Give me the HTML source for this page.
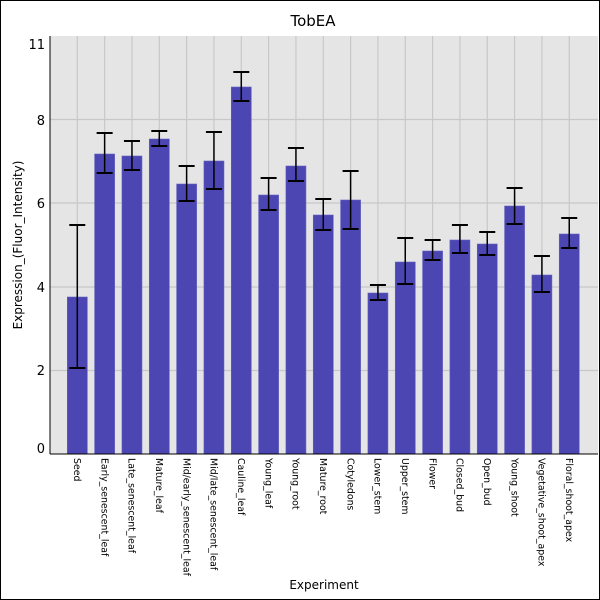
<!DOCTYPE html>
<html><head><style>body{margin:0;background:#fff}svg{display:block}</style></head><body>
<svg width="600" height="600" xmlns="http://www.w3.org/2000/svg" font-family="DejaVu Sans, Liberation Sans, sans-serif">
<rect x="0.5" y="0.5" width="599" height="599" fill="#fff" stroke="#000"/>
<text x="313" y="26" font-size="15" text-anchor="middle">TobEA</text>
<rect x="50" y="36" width="548" height="418" fill="#e5e5e5"/>
<g stroke="#c8c8c8" stroke-width="1.2">
<line x1="50" x2="598" y1="119.5" y2="119.5"/><line x1="50" x2="598" y1="203" y2="203"/><line x1="50" x2="598" y1="287" y2="287"/><line x1="50" x2="598" y1="370.5" y2="370.5"/>
</g>
<g id="v" stroke="#c8c8c8" stroke-width="1.2"></g>
<g id="bars"></g>
<line x1="50" y1="36" x2="50" y2="454" stroke="#000"/>
<line x1="50" y1="454" x2="598" y2="454" stroke="#000"/>
<g font-size="13" text-anchor="end">
<text x="45" y="49">11</text><text x="45" y="125">8</text><text x="45" y="208">6</text><text x="45" y="292">4</text><text x="45" y="375">2</text><text x="45" y="453">0</text>
</g>
<text transform="translate(22,245) rotate(-90)" font-size="12" text-anchor="middle">Expression_(Fluor_Intensity)</text>
<text x="324" y="589" font-size="12" text-anchor="middle">Experiment</text>
<g id="labels" font-size="9.4"></g>
<script>
var d=[["Seed",297,225,368],["Early_senescent_leaf",154,133,173],["Late_senescent_leaf",156,141,170],["Mature_leaf",139,131,146],["Mid/early_senescent_leaf",184,166,201],["Mid/late_senescent_leaf",161,132,189],["Cauline_leaf",87,72,101],["Young_leaf",195,178,210],["Young_root",166,148,181],["Mature_root",215,199,230],["Cotyledons",200,171,229],["Lower_stem",293,285,300],["Upper_stem",262,238,284],["Flower",251,240,260],["Closed_bud",240,225,253],["Open_bud",244,232,255],["Young_shoot",206,188,224],["Vegetative_shoot_apex",275,256,292],["Floral_shoot_apex",234,218,248]];
var ns="http://www.w3.org/2000/svg",v=document.getElementById("v"),b=document.getElementById("bars"),l=document.getElementById("labels");
function el(p,t,a,tx){var e=document.createElementNS(ns,t);for(var k in a)e.setAttribute(k,a[k]);if(tx)e.textContent=tx;p.appendChild(e);}
d.forEach(function(r,i){var c=77.3+i*27.33;
el(v,"line",{x1:c,x2:c,y1:36,y2:454});
el(b,"rect",{x:c-10,y:r[1],width:20,height:454-r[1],fill:"#4b46b2",stroke:"#6360c0","stroke-width":0.6});
el(b,"line",{x1:c,x2:c,y1:r[2],y2:r[3],stroke:"#000","stroke-width":1.5});
el(b,"line",{x1:c-8,x2:c+8,y1:r[2],y2:r[2],stroke:"#000","stroke-width":2});
el(b,"line",{x1:c-8,x2:c+8,y1:r[3],y2:r[3],stroke:"#000","stroke-width":2});
el(l,"text",{transform:"translate("+(c-3.3)+",458) rotate(90)"},r[0]);
});
</script>
</svg>
</body></html>
